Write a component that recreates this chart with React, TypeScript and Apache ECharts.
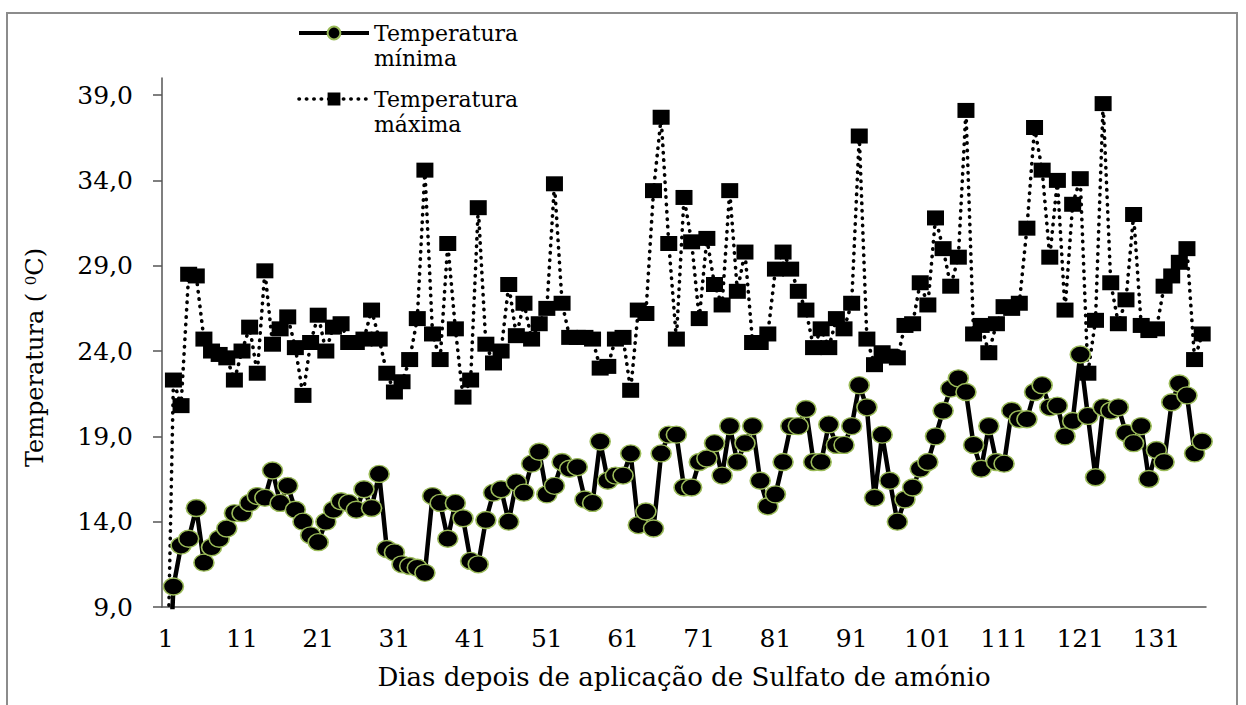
import { useEffect, useRef } from "react";
import * as echarts from "echarts";

// Day labels (category axis): 1 .. 137
const days: string[] = Array.from({ length: 137 }, (_, i) => String(i + 1));

// Minimum temperature (°C); first value is 0 (empty cell, drawn below the axis)
const tMin: number[] = [
  0, 10.2, 12.6, 13.0, 14.8, 11.6, 12.5, 13.0, 13.6, 14.5,
  14.5, 15.1, 15.5, 15.4, 17.0, 15.1, 16.1, 14.7, 14.0, 13.2,
  12.8, 14.0, 14.7, 15.2, 15.1, 14.7, 15.9, 14.8, 16.8, 12.4,
  12.2, 11.5, 11.4, 11.3, 11.0, 15.5, 15.1, 13.0, 15.1, 14.2,
  11.7, 11.5, 14.1, 15.7, 15.9, 14.0, 16.3, 15.7, 17.4, 18.1,
  15.6, 16.1, 17.5, 17.1, 17.2, 15.3, 15.1, 18.7, 16.4, 16.7,
  16.7, 18.0, 13.8, 14.6, 13.6, 18.0, 19.1, 19.1, 16.0, 16.0,
  17.5, 17.7, 18.6, 16.7, 19.6, 17.5, 18.6, 19.6, 16.4, 14.9,
  15.6, 17.5, 19.6, 19.6, 20.6, 17.5, 17.5, 19.7, 18.5, 18.5,
  19.6, 22.0, 20.7, 15.4, 19.1, 16.4, 14.0, 15.3, 16.0, 17.1,
  17.5, 19.0, 20.5, 21.8, 22.4, 21.6, 18.5, 17.1, 19.6, 17.5,
  17.4, 20.5, 20.0, 20.0, 21.6, 22.0, 20.7, 20.8, 19.0, 19.9,
  23.8, 20.2, 16.6, 20.7, 20.5, 20.7, 19.2, 18.6, 19.6, 16.5,
  18.2, 17.5, 21.0, 22.1, 21.4, 18.0, 18.7,
];

// Maximum temperature (°C)
const tMax: number[] = [
  0, 22.3, 20.8, 28.5, 28.4, 24.7, 24.0, 23.8, 23.6, 22.3,
  24.0, 25.4, 22.7, 28.7, 24.4, 25.3, 26.0, 24.2, 21.4, 24.5,
  26.1, 24.0, 25.4, 25.6, 24.5, 24.5, 24.7, 26.4, 24.7, 22.7,
  21.6, 22.2, 23.5, 25.9, 34.6, 25.0, 23.5, 30.3, 25.3, 21.3,
  22.3, 32.4, 24.4, 23.3, 24.0, 27.9, 24.9, 26.8, 24.7, 25.6,
  26.5, 33.8, 26.8, 24.8, 24.8, 24.8, 24.7, 23.0, 23.1, 24.7,
  24.8, 21.7, 26.4, 26.2, 33.4, 37.7, 30.3, 24.7, 33.0, 30.4,
  25.9, 30.6, 27.9, 26.7, 33.4, 27.5, 29.8, 24.5, 24.5, 25.0,
  28.8, 29.8, 28.8, 27.5, 26.4, 24.2, 25.3, 24.2, 25.9, 25.3,
  26.8, 36.6, 24.7, 23.2, 23.9, 23.7, 23.6, 25.5, 25.6, 28.0,
  26.7, 31.8, 30.0, 27.8, 29.5, 38.1, 25.0, 25.5, 23.9, 25.6,
  26.6, 26.5, 26.8, 31.2, 37.1, 34.6, 29.5, 34.0, 26.4, 32.6,
  34.1, 22.7, 25.8, 38.5, 28.0, 25.6, 27.0, 32.0, 25.5, 25.2,
  25.3, 27.8, 28.4, 29.2, 30.0, 23.5, 25.0,
];

const yTicks: number[] = [9, 14, 19, 24, 29, 34, 39];
const seriesNames: string[] = ["Temperatura mínima", "Temperatura máxima"];
const xTitle = "Dias depois de aplicação de Sulfato de amónio";

export default function App() {
  const ref = useRef<HTMLDivElement>(null);
  useEffect(() => {
    if (!ref.current) return;
    const chart = echarts.init(ref.current, null, { renderer: "svg" });
    const font = "DejaVu Serif";
    const ellipse = "path://M0,10A10,10,0,1,1,20,10A10,10,0,1,1,0,10Z";
    const axisColor = "#555555";
    const minLine = { color: "#000", width: 4.5 };
    const maxLine = { color: "#000", width: 3.6, type: [0.4, 7], cap: "round" };
    chart.setOption({
      animation: false,
      backgroundColor: "#ffffff",
      textStyle: { fontFamily: font, color: "#000" },
      grid: { left: 162, right: 40, top: 78, bottom: 98, containLabel: false },
      legend: {
        orient: "vertical",
        left: 297,
        top: -4.5,
        padding: 0,
        itemGap: -9,
        itemWidth: 70,
        itemHeight: 16,
        data: [
          { name: seriesNames[0], lineStyle: { ...minLine, width: 4 } },
          { name: seriesNames[1], lineStyle: { ...maxLine } },
        ],
        formatter: (n: string) => {
          const parts = n.split(" ");
          return "{p| }\n{t|" + parts[0] + "}\n{t|" + parts[1] + "}";
        },
        textStyle: {
          fontFamily: font,
          fontSize: 22,
          color: "#000",
          rich: {
            p: { fontSize: 10, height: 25, lineHeight: 25 },
            t: { fontFamily: font, fontSize: 22, height: 25, lineHeight: 25, color: "#000" },
          },
        },
      },
      xAxis: {
        type: "category",
        data: days,
        boundaryGap: true,
        axisLine: { lineStyle: { color: axisColor, width: 1.5 } },
        axisTick: { interval: 4, length: 8, lineStyle: { color: axisColor, width: 1.5 } },
        axisLabel: { interval: 9, margin: 19, fontFamily: font, fontSize: 25, color: "#000" },
        name: xTitle,
        nameLocation: "middle",
        nameGap: 57,
        nameTextStyle: { fontFamily: font, fontSize: 26, color: "#000" },
      },
      yAxis: {
        type: "value",
        min: 9,
        max: 40,
        splitLine: { show: false },
        axisLine: { show: true, lineStyle: { color: axisColor, width: 1.5 } },
        axisTick: { show: true, length: 9, customValues: yTicks, lineStyle: { color: axisColor, width: 1.5 } },
        axisLabel: {
          customValues: yTicks,
          margin: 29,
          fontFamily: font,
          fontSize: 25,
          color: "#000",
          formatter: (v: number) => v.toFixed(1).replace(".", ","),
        },
        name: "{a|Temperatura ( }{s|0}{a|C)}",
        nameLocation: "middle",
        nameRotate: 90,
        nameGap: 115,
        nameTextStyle: {
          padding: [0, 30, 0, 0],
          rich: {
            a: { fontFamily: font, fontSize: 24, color: "#000" },
            s: { fontFamily: font, fontSize: 15, color: "#000", verticalAlign: "top" },
          },
        },
      },
      series: [
        {
          name: seriesNames[0],
          type: "line",
          data: tMin,
          clip: true,
          showAllSymbol: true,
          symbol: ellipse,
          symbolSize: [20, 17],
          itemStyle: { color: "#000", borderColor: "#9bbb59", borderWidth: 1.5 },
          lineStyle: minLine,
          z: 3,
        },
        {
          name: seriesNames[1],
          type: "line",
          data: tMax,
          clip: true,
          showAllSymbol: true,
          symbol: "rect",
          symbolSize: [17, 15],
          itemStyle: { color: "#000" },
          lineStyle: maxLine,
          z: 2,
        },
      ],
      graphic: [
        {
          type: "rect",
          shape: { x: 7, y: 13, width: 1230, height: 720 },
          style: { fill: "none", stroke: "#8c8c8c", lineWidth: 2 },
          silent: true,
        },
      ],
    });
    return () => chart.dispose();
  }, []);
  return (
    <div
      ref={ref}
      style={{ position: "absolute", left: 0, top: 0, width: 1246, height: 705 }}
    />
  );
}
